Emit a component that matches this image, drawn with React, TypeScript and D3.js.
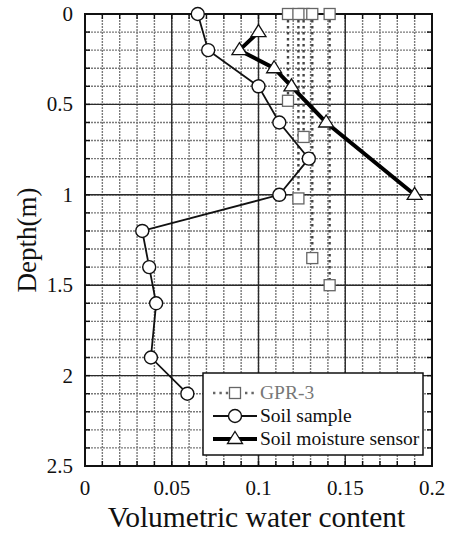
import React from "react";
import * as d3 from "d3";

const soilDepth = [0, 0.2, 0.4, 0.6, 0.8, 1.0, 1.2, 1.4, 1.6, 1.9, 2.1];
const soilVWC = [0.065, 0.071, 0.1, 0.112, 0.129, 0.112, 0.033, 0.037, 0.041, 0.038, 0.059];

const sensorDepth = [0.1, 0.2, 0.3, 0.4, 0.6, 1.0];
const sensorVWC = [0.1, 0.089, 0.109, 0.119, 0.139, 0.19];

const gprDepth = [0.48, 0.68, 1.02, 1.35, 1.5];
const gprVWC = [0.117, 0.126, 0.123, 0.131, 0.141];

const xTicks = [0, 0.05, 0.1, 0.15, 0.2];
const xTickLabels = ["0", "0.05", "0.1", "0.15", "0.2"];
const yTicks = [0, 0.5, 1, 1.5, 2, 2.5];
const yTickLabels = ["0", "0.5", "1", "1.5", "2", "2.5"];

const legendLabels = ["GPR-3", "Soil sample", "Soil moisture sensor"];

const FONT = '"Liberation Serif"';

export default function App() {
  const W = 451, H = 534;
  const L = 85, R = 432, T = 14, B = 466;
  const x = d3.scaleLinear().domain([0, 0.2]).range([L, R]);
  const y = d3.scaleLinear().domain([0, 2.5]).range([T, B]);

  const minorX = d3.range(0, 21).map((i) => i / 100);
  const minorY = d3.range(0, 26).map((i) => i / 10);

  const line = d3.line<[number, number]>().x((d) => x(d[0])).y((d) => y(d[1]));
  const soilPts: [number, number][] = soilVWC.map((v, i) => [v, soilDepth[i]]);
  const sensorPts: [number, number][] = sensorVWC.map((v, i) => [v, sensorDepth[i]]);

  const sq = 11;
  const cr = 6.5;
  const tri = (cx: number, cy: number, s = 7.5) =>
    `M${cx},${cy - s}L${cx + s},${cy + s * 0.6}L${cx - s},${cy + s * 0.6}Z`;

  const lgX = 203, lgY = 373, lgW = 220, lgH = 82;
  const rows = [393, 416, 439];
  const symL = 213, symR = 257, symC = 235;
  const ts = { fontFamily: FONT };

  return (
    <svg width={W} height={H} style={{ position: "absolute", left: 0, top: 0, background: "#fff" }}>
      <rect x={0} y={0} width={W} height={H} fill="#fff" />
      {/* minor grid */}
      {minorX.map((v, i) => (
        <line key={"mx" + i} x1={x(v)} x2={x(v)} y1={T} y2={B} stroke="#7a7a7a" strokeWidth={1.4} strokeDasharray="2,1" />
      ))}
      {minorY.map((v, i) => (
        <line key={"my" + i} x1={L} x2={R} y1={y(v)} y2={y(v)} stroke="#7a7a7a" strokeWidth={1.4} strokeDasharray="2,1" />
      ))}
      {/* major grid */}
      {xTicks.map((v, i) => (
        <line key={"gx" + i} x1={x(v)} x2={x(v)} y1={T} y2={B} stroke="#2a2a2a" strokeWidth={1.4} />
      ))}
      {yTicks.map((v, i) => (
        <line key={"gy" + i} x1={L} x2={R} y1={y(v)} y2={y(v)} stroke="#2a2a2a" strokeWidth={1.4} />
      ))}
      {/* minor ticks */}
      {minorY.map((v, i) => (
        <g key={"ty" + i}>
          <line x1={L} x2={L + 5} y1={y(v)} y2={y(v)} stroke="#111" strokeWidth={1.4} />
          <line x1={R - 5} x2={R} y1={y(v)} y2={y(v)} stroke="#111" strokeWidth={1.4} />
        </g>
      ))}
      {minorX.map((v, i) => (
        <g key={"tx" + i}>
          <line x1={x(v)} x2={x(v)} y1={T} y2={T + 5} stroke="#111" strokeWidth={1.4} />
          <line x1={x(v)} x2={x(v)} y1={B - 5} y2={B} stroke="#111" strokeWidth={1.4} />
        </g>
      ))}
      {/* frame */}
      <rect x={L} y={T} width={R - L} height={B - T} fill="none" stroke="#111" strokeWidth={2} />

      {/* GPR vertical dotted lines */}
      {gprVWC.map((v, i) => (
        <line key={"gl" + i} x1={x(v)} x2={x(v)} y1={y(0)} y2={y(gprDepth[i])} stroke="#444" strokeWidth={2.4} strokeDasharray="2.4,3.6" />
      ))}
      {/* soil sample line */}
      <path d={line(soilPts) || ""} fill="none" stroke="#111" strokeWidth={1.8} />
      {/* sensor line */}
      <path d={line(sensorPts) || ""} fill="none" stroke="#000" strokeWidth={4} />

      {/* GPR squares */}
      {gprVWC.map((v, i) => (
        <g key={"gs" + i}>
          <rect x={x(v) - sq / 2} y={y(0) - sq / 2} width={sq} height={sq} fill="#fff" stroke="#666" strokeWidth={1.3} />
          <rect x={x(v) - sq / 2} y={y(gprDepth[i]) - sq / 2} width={sq} height={sq} fill="#fff" stroke="#666" strokeWidth={1.3} />
        </g>
      ))}
      {/* soil circles */}
      {soilPts.map((p, i) => (
        <circle key={"sc" + i} cx={x(p[0])} cy={y(p[1])} r={cr} fill="#fff" stroke="#111" strokeWidth={1.4} />
      ))}
      {/* sensor triangles */}
      {sensorPts.map((p, i) => (
        <path key={"st" + i} d={tri(x(p[0]), y(p[1]))} fill="#fff" stroke="#111" strokeWidth={1.3} />
      ))}

      {/* axis tick labels */}
      {xTicks.map((v, i) => (
        <text key={"xl" + i} x={x(v)} y={B + 29} textAnchor="middle" fontSize={21} fill="#111" style={ts}>
          {xTickLabels[i]}
        </text>
      ))}
      {yTicks.map((v, i) => (
        <text key={"yl" + i} x={L - 12} y={y(v) + 7} textAnchor="end" fontSize={21} fill="#111" style={ts}>
          {yTickLabels[i]}
        </text>
      ))}
      <text x={(L + R) / 2 - 2} y={527} textAnchor="middle" fontSize={29.5} fill="#111" style={ts}>
        Volumetric water content
      </text>
      <text transform={`translate(36,${(T + B) / 2}) rotate(-90)`} textAnchor="middle" fontSize={27} fill="#111" style={ts}>
        Depth(m)
      </text>

      {/* legend */}
      <rect x={lgX} y={lgY} width={lgW} height={lgH} fill="#fff" stroke="#111" strokeWidth={1.5} />
      <line x1={symL} x2={symR} y1={rows[0]} y2={rows[0]} stroke="#666" strokeWidth={2.4} strokeDasharray="2.4,4" />
      <rect x={symC - sq / 2} y={rows[0] - sq / 2} width={sq} height={sq} fill="#fff" stroke="#666" strokeWidth={1.3} />
      <line x1={symL} x2={symR} y1={rows[1]} y2={rows[1]} stroke="#111" strokeWidth={1.8} />
      <circle cx={symC} cy={rows[1]} r={cr} fill="#fff" stroke="#111" strokeWidth={1.4} />
      <line x1={symL} x2={symR} y1={rows[2]} y2={rows[2]} stroke="#000" strokeWidth={4} />
      <path d={tri(symC, rows[2])} fill="#fff" stroke="#111" strokeWidth={1.3} />
      {legendLabels.map((t, i) => (
        <text key={"lg" + i} x={260} y={rows[i] + 6} fontSize={19.5} fill={i === 0 ? "#777" : "#111"} style={ts}>
          {t}
        </text>
      ))}
    </svg>
  );
}
